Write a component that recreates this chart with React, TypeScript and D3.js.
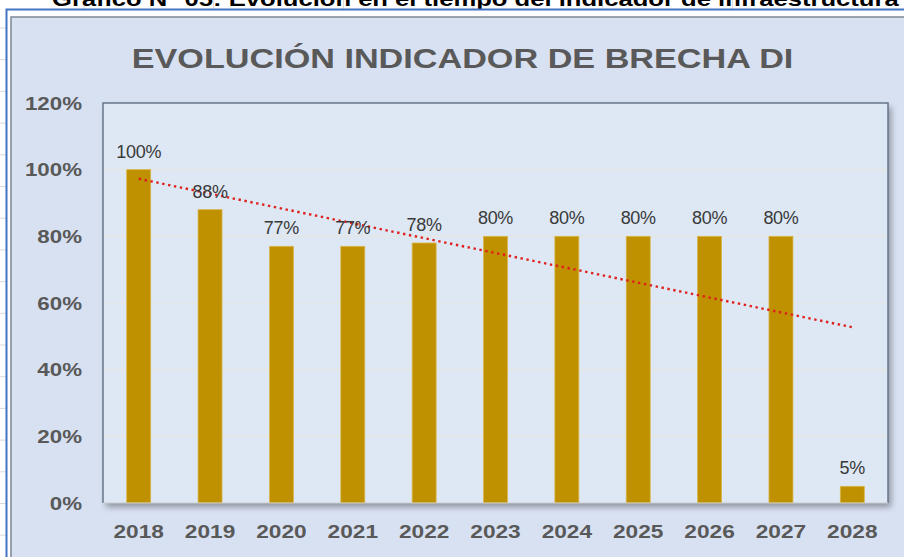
import React, { useEffect, useRef } from "react";
import * as d3 from "d3";

const years = ["2018", "2019", "2020", "2021", "2022", "2023", "2024", "2025", "2026", "2027", "2028"];
const values = [100, 88, 77, 77, 78, 80, 80, 80, 80, 80, 5];
const yTicks = [0, 20, 40, 60, 80, 100, 120];
const titleText = "EVOLUCIÓN INDICADOR DE BRECHA DI";
const headerText = "Gráfico N° 05: Evolución en el tiempo del indicador de infraestructura";

export default function App() {
  const ref = useRef<SVGSVGElement | null>(null);

  useEffect(() => {
    document.body.style.margin = "0";
    const svg = d3.select(ref.current);
    svg.selectAll("*").remove();
    const W = 904, H = 557;
    const font = "'Liberation Sans', Arial, sans-serif";

    const defs = svg.append("defs");
    const f = defs.append("filter").attr("id", "sh").attr("x", "-5%").attr("y", "-5%").attr("width", "115%").attr("height", "115%");
    f.append("feDropShadow").attr("dx", 3).attr("dy", 4).attr("stdDeviation", 3).attr("flood-color", "#000").attr("flood-opacity", 0.35);

    // sheet background
    svg.append("rect").attr("width", W).attr("height", H).attr("fill", "#ffffff");
    const gridX = d3.range(0, 7).map((k) => 84 + 129.7 * k);
    svg.append("g").selectAll("line").data(gridX).join("line")
      .attr("x1", (d) => d).attr("x2", (d) => d).attr("y1", 0).attr("y2", 17)
      .attr("stroke", "#d9d9d9").attr("stroke-width", 1);
    const gridY = d3.range(-2, 16).map((k) => 503.5 - 31.7 * k);
    svg.append("g").selectAll("line").data(gridY).join("line")
      .attr("x1", 0).attr("x2", 6).attr("y1", (d) => d).attr("y2", (d) => d)
      .attr("stroke", "#d9d9d9").attr("stroke-width", 1);

    // header text (clipped at top, as in the reference)
    svg.append("text").attr("transform", "translate(52,6) scale(1.22,1)")
      .attr("font-family", font).attr("font-weight", "bold").attr("font-size", 21)
      .attr("fill", "#000").text(headerText);

    // chart area
    svg.append("rect").attr("x", 6.5).attr("y", 9.5).attr("width", W).attr("height", H)
      .attr("fill", "#ffffff").attr("stroke", "#4472c4").attr("stroke-width", 2);
    svg.append("rect").attr("x", 11).attr("y", 17).attr("width", W).attr("height", H)
      .attr("fill", "#d8e1f2").attr("stroke", "#7d8794").attr("stroke-width", 1.5);

    // title
    svg.append("text").attr("transform", "translate(462.5,67.5) scale(1.2,1)")
      .attr("text-anchor", "middle").attr("font-family", font).attr("font-weight", "bold")
      .attr("font-size", 28.5).attr("fill", "#595959").text(titleText);

    const left = 103, right = 888, top = 103, bottom = 503;
    const x = d3.scaleBand<string>().domain(years).range([left, right]).paddingInner(0.664).paddingOuter(0.332);
    const y = d3.scaleLinear().domain([0, 120]).range([bottom, top]);

    // plot area
    svg.append("rect").attr("x", left).attr("y", top).attr("width", right - left).attr("height", bottom - top)
      .attr("fill", "#dde8f4").attr("filter", "url(#sh)");
    svg.append("g").selectAll("line").data(yTicks.filter((t) => t > 0 && t < 120)).join("line")
      .attr("x1", left).attr("x2", right).attr("y1", (d) => y(d)).attr("y2", (d) => y(d))
      .attr("stroke", "#e6e5e0").attr("stroke-width", 1.2);

    // bars
    svg.append("g").selectAll("rect").data(values).join("rect")
      .attr("x", (_, i) => x(years[i])!).attr("width", x.bandwidth())
      .attr("y", (d) => y(d)).attr("height", (d) => y(0) - y(d))
      .attr("fill", "#bf9000").attr("stroke", "#d9b64a").attr("stroke-width", 0.8);

    // plot border
    const border = d3.path();
    border.moveTo(left, bottom); border.lineTo(left, top); border.lineTo(right, top); border.lineTo(right, bottom);
    svg.append("path").attr("d", border.toString()).attr("fill", "none").attr("stroke", "#65758a").attr("stroke-width", 1.5);
    svg.append("line").attr("x1", left).attr("x2", right).attr("y1", bottom).attr("y2", bottom)
      .attr("stroke", "#c8ccd2").attr("stroke-width", 1.2);

    // trend line (linear regression)
    const n = values.length;
    const xs = d3.range(n);
    const mx = d3.mean(xs)!, my = d3.mean(values)!;
    const slope = d3.sum(xs, (i) => (i - mx) * (values[i] - my)) / d3.sum(xs, (i) => (i - mx) ** 2);
    const icpt = my - slope * mx;
    const cx = (i: number) => x(years[i])! + x.bandwidth() / 2;
    svg.append("line")
      .attr("x1", cx(0)).attr("y1", y(icpt)).attr("x2", cx(n - 1)).attr("y2", y(icpt + slope * (n - 1)))
      .attr("stroke", "#e0201c").attr("stroke-width", 2.4).attr("stroke-dasharray", "2.4 3.6");

    // value labels
    svg.append("g").selectAll("text").data(values).join("text")
      .attr("x", (_, i) => cx(i)).attr("y", (d) => y(d) - 12)
      .attr("text-anchor", "middle").attr("font-family", font).attr("font-size", 18)
      .attr("fill", "#3a3a3a").attr("letter-spacing", -0.3).text((d) => `${d}%`);

    // y axis labels
    svg.append("g").selectAll("text").data(yTicks).join("text")
      .attr("transform", (d) => `translate(82,${y(d) + 6.5}) scale(1.24,1)`)
      .attr("text-anchor", "end").attr("font-family", font).attr("font-weight", "bold")
      .attr("font-size", 18).attr("fill", "#595959").text((d) => `${d}%`);

    // x axis labels
    svg.append("g").selectAll("text").data(years).join("text")
      .attr("transform", (d) => `translate(${x(d)! + x.bandwidth() / 2},538) scale(1.26,1)`)
      .attr("text-anchor", "middle").attr("font-family", font).attr("font-weight", "bold")
      .attr("font-size", 18).attr("fill", "#595959").text((d) => d);
  }, []);

  return <svg ref={ref} width={904} height={557} style={{ display: "block" }} />;
}
